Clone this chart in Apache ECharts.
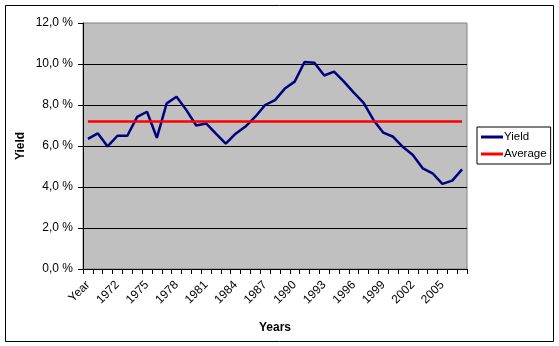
<!DOCTYPE html>
<html>
<head>
<meta charset="utf-8">
<script src="https://cdn.jsdelivr.net/npm/echarts@6/dist/echarts.min.js"></script>
<style>
html,body{margin:0;padding:0;background:#fff;}
#c{width:559px;height:346px;}
</style>
</head>
<body>
<div id="c"></div>
<script>
var categories = ['Year'];
for (var yr = 1970; yr <= 2007; yr++) categories.push(String(yr));

var yieldValues = [6.35, 6.62, 5.98, 6.5, 6.5, 7.42, 7.67, 6.4, 8.08, 8.4,
  7.75, 7.0, 7.1, 6.6, 6.12, 6.6, 6.95, 7.43, 8.0, 8.24,
  8.8, 9.14, 10.1, 10.06, 9.44, 9.63, 9.14, 8.6, 8.1, 7.27,
  6.65, 6.45, 5.95, 5.56, 4.91, 4.67, 4.15, 4.31, 4.86];

var averageValue = 7.2;
var averageValues = categories.map(function () { return averageValue; });

var yTicks = [0, 2, 4, 6, 8, 10, 12];

var chart = echarts.init(document.getElementById('c'), null, {renderer: 'canvas'});
var font = '"Liberation Sans", Arial, sans-serif';

chart.setOption({
  animation: false,
  backgroundColor: '#ffffff',
  textStyle: {fontFamily: font, color: '#000'},
  graphic: [{
    type: 'rect',
    shape: {x: 5.5, y: 5.5, width: 548, height: 336},
    style: {fill: 'none', stroke: '#000', lineWidth: 1},
    silent: true, z: -1
  }],
  grid: {
    left: 83, top: 23, right: 92, bottom: 77,
    show: true, backgroundColor: '#C0C0C0', borderColor: '#808080', borderWidth: 1
  },
  legend: {
    orient: 'vertical',
    left: 477, top: 127,
    padding: [4, 4, 4, 4],
    itemGap: 5,
    itemWidth: 22, itemHeight: 3,
    borderColor: '#000', borderWidth: 1,
    backgroundColor: '#fff',
    textStyle: {fontFamily: font, fontSize: 11.5, color: '#000', padding: [0, 0, 0, -4]},
    data: [{name: 'Yield', icon: 'rect'}, {name: 'Average', icon: 'rect'}]
  },
  xAxis: {
    type: 'category',
    data: categories,
    boundaryGap: true,
    name: 'Years',
    nameLocation: 'middle',
    nameGap: 53,
    nameTextStyle: {fontFamily: font, fontSize: 12, fontWeight: 'bold', color: '#000'},
    axisLine: {lineStyle: {color: '#000', width: 1}},
    axisTick: {show: true, interval: 0, length: 5, lineStyle: {color: '#000'}},
    axisLabel: {interval: 2, rotate: 45, margin: 14, fontSize: 12, color: '#000', fontFamily: font},
    splitLine: {show: false}
  },
  yAxis: {
    type: 'value',
    min: yTicks[0], max: yTicks[yTicks.length - 1], interval: 2,
    name: 'Yield',
    nameLocation: 'middle',
    nameGap: 56,
    nameMoveOverlap: false,
    nameTextStyle: {fontFamily: font, fontSize: 12, fontWeight: 'bold', color: '#000'},
    axisLine: {show: true, lineStyle: {color: '#000', width: 1}},
    axisTick: {show: true, length: 5, lineStyle: {color: '#000'}},
    axisLabel: {
      margin: 10, fontSize: 12, color: '#000', fontFamily: font,
      formatter: function (v) { return v.toFixed(1).replace('.', ',') + ' %'; }
    },
    splitLine: {show: true, showMaxLine: false, showMinLine: false, lineStyle: {color: '#000', width: 1}}
  },
  series: [
    {
      name: 'Yield', type: 'line', data: yieldValues,
      symbol: 'none', color: '#000080',
      lineStyle: {color: '#000080', width: 2.5}
    },
    {
      name: 'Average', type: 'line', data: averageValues,
      symbol: 'none', color: '#FF0000',
      lineStyle: {color: '#FF0000', width: 2.5}
    }
  ]
});
</script>
</body>
</html>
